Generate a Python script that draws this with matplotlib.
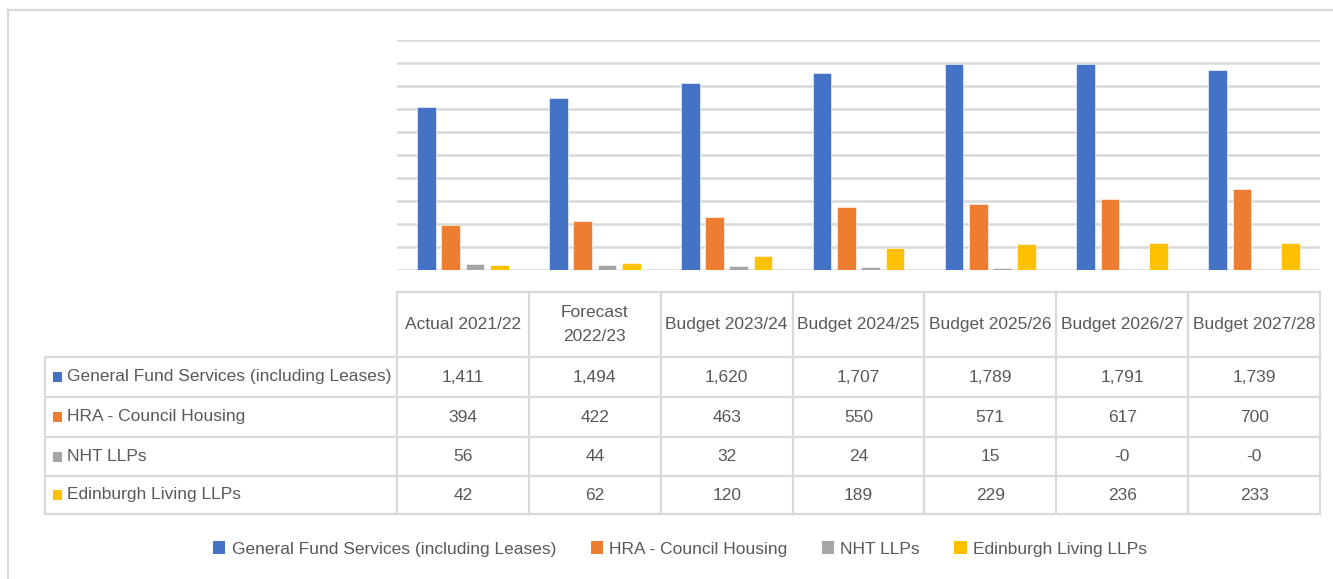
import matplotlib
matplotlib.use("Agg")
import matplotlib.pyplot as plt
from matplotlib.patches import Patch, Rectangle
from matplotlib.lines import Line2D
import numpy as np

plt.rcParams['font.family'] = ['Liberation Sans', 'DejaVu Sans']

categories = ["Actual 2021/22", "Forecast\n2022/23", "Budget 2023/24", "Budget 2024/25",
              "Budget 2025/26", "Budget 2026/27", "Budget 2027/28"]
series_names = ["General Fund Services (including Leases)", "HRA - Council Housing",
                "NHT LLPs", "Edinburgh Living LLPs"]
general_fund = [1411, 1494, 1620, 1707, 1789, 1791, 1739]
hra = [394, 422, 463, 550, 571, 617, 700]
nht = [56, 44, 32, 24, 15, -0.0, -0.0]
edinburgh = [42, 62, 120, 189, 229, 236, 233]
colors = ["#4472C4", "#ED7D31", "#A5A5A5", "#FFC000"]
y_ticks = [0, 200, 400, 600, 800, 1000, 1200, 1400, 1600, 1800, 2000]

W, H = 1333, 579
fig = plt.figure(figsize=(W / 100, H / 100), dpi=100)

def fx(px):
    return px / W

def fy(py):
    return 1 - py / H

grid_c = "#D9D9D9"
text_c = "#595959"

# outer frame
fig.add_artist(Line2D([fx(8), fx(1333)], [fy(10), fy(10)], color=grid_c, lw=1.6))
fig.add_artist(Line2D([fx(8), fx(8)], [fy(10), fy(579)], color=grid_c, lw=1.6))

x_left, x_right = 397, 1320
y_base, y_top = 270, 39.5
ax = fig.add_axes([fx(x_left), fy(y_base), fx(x_right) - fx(x_left), fy(y_top) - fy(y_base)])
ax.set_xlim(0, len(categories))
ax.set_ylim(0, 2000)
ax.set_yticks(y_ticks)
ax.yaxis.grid(True, color=grid_c, lw=1.8)
ax.set_axisbelow(True)
ax.tick_params(left=False, bottom=False, labelleft=False, labelbottom=False)
for s in ax.spines.values():
    s.set_visible(False)

all_series = [general_fund, hra, nht, edinburgh]
x = np.arange(len(categories)) + 0.5
step = 0.184
width = 0.142
for i, (vals, c) in enumerate(zip(all_series, colors)):
    off = (i - 1.5) * step
    ax.bar(x + off, vals, width=width, color=c, edgecolor="white", linewidth=0.4, zorder=2)

# data table
col_w = (x_right - x_left) / len(categories)
header_top, header_bot = 292, 357
row_bounds = [357, 397, 437, 476, 514]
label_left = 45

def hline(y, x0, x1):
    fig.add_artist(Line2D([fx(x0), fx(x1)], [fy(y), fy(y)], color=grid_c, lw=1.6))

def vline(xp, y0, y1):
    fig.add_artist(Line2D([fx(xp), fx(xp)], [fy(y0), fy(y1)], color=grid_c, lw=1.6))

hline(header_top, x_left, x_right)
for yb in row_bounds:
    hline(yb, label_left, x_right)
for j in range(len(categories) + 1):
    vline(x_left + j * col_w, header_top, row_bounds[-1])
vline(label_left, row_bounds[0], row_bounds[-1])

fs = 12.5
for j, cat in enumerate(categories):
    cx = x_left + (j + 0.5) * col_w
    fig.text(fx(cx), fy((header_top + header_bot) / 2), cat, ha="center", va="center",
             color=text_c, fontsize=fs, linespacing=1.8)

for r, (name, vals, c) in enumerate(zip(series_names, all_series, colors)):
    cy = (row_bounds[r] + row_bounds[r + 1]) / 2
    fig.add_artist(Rectangle((fx(53), fy(cy + 5)), fx(9), 10 / H, color=c, lw=0))
    fig.text(fx(67), fy(cy), name, ha="left", va="center", color=text_c, fontsize=fs)
    for j, v in enumerate(vals):
        cx = x_left + (j + 0.5) * col_w
        fig.text(fx(cx), fy(cy), f"{v:,.0f}", ha="center", va="center", color=text_c, fontsize=fs)

handles = [Patch(facecolor=c, edgecolor="none") for c in colors]
fig.legend(handles, series_names, loc="center", bbox_to_anchor=(fx(680), fy(549)), ncol=4,
           frameon=False, fontsize=fs, labelcolor=text_c, handlelength=0.7, handleheight=0.7,
           handletextpad=0.35, columnspacing=2.0)

fig.savefig("out.png", dpi=100, facecolor="white")
